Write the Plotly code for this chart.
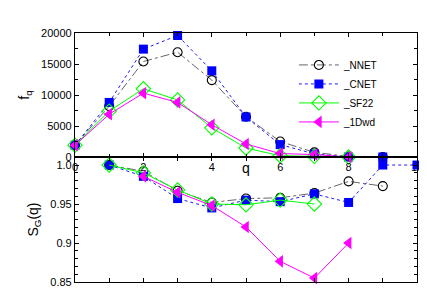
import plotly.graph_objects as go
from plotly.subplots import make_subplots

# top panel: f_q
q_top = [0, 1, 2, 3, 4, 5, 6, 7, 8, 9]
fq_nnet = [1900, 8200, 15400, 16900, 12400, 6500, 2500, 750, 80, 0]
fq_cnet = [1900, 8800, 17400, 19600, 13900, 6450, 2000, 500, 0, 0]
q_sf22 = [0, 1, 2, 3, 4, 5, 6, 7, 8]
fq_sf22 = [1900, 7400, 11000, 9200, 4700, 1450, 200, 100, 0]
fq_1dwd = [1900, 6900, 10300, 8800, 5200, 2100, 550, 400, 0]

# bottom panel: S_G(q)
q_nnet_b = [1, 2, 3, 4, 5, 6, 7, 8, 9]
sg_nnet = [1.0, 0.992, 0.967, 0.952, 0.957, 0.958, 0.964, 0.979, 0.973]
q_cnet_b = [1, 2, 3, 4, 5, 6, 7, 8, 9, 10]
sg_cnet = [1.0, 0.9855, 0.957, 0.945, 0.955, 0.953, 0.963, 0.952, 1.0, 1.0]
q_sf22_b = [1, 2, 3, 4, 5, 6, 7]
sg_sf22 = [1.0, 0.99, 0.968, 0.95, 0.949, 0.955, 0.950]
q_1dwd_b = [2, 3, 4, 5, 6, 7, 8]
sg_1dwd = [0.9855, 0.965, 0.948, 0.9205, 0.8765, 0.855, 0.90]

names = ["_NNET", "_CNET", "_SF22", "_1Dwd"]

fig = make_subplots(rows=2, cols=1, vertical_spacing=0)

styles = [
    dict(line=dict(color="#555555", width=0.9, dash="dashdot"),
         marker=dict(symbol="circle-open", size=9, color="black", line=dict(width=1.1, color="black"))),
    dict(line=dict(color="#0000ff", width=0.9, dash="dot"),
         marker=dict(symbol="square", size=9, color="#0000ff")),
    dict(line=dict(color="#00ff00", width=1),
         marker=dict(symbol="diamond-open", size=11, color="#00ff00", line=dict(width=1.1, color="#00ff00"))),
    dict(line=dict(color="#ff00ff", width=1),
         marker=dict(symbol="triangle-left", size=11, color="#ff00ff")),
]

top = [(q_top, fq_nnet), (q_top, fq_cnet), (q_sf22, fq_sf22), (q_sf22, fq_1dwd)]
bot = [(q_nnet_b, sg_nnet), (q_cnet_b, sg_cnet), (q_sf22_b, sg_sf22), (q_1dwd_b, sg_1dwd)]

for i in range(4):
    fig.add_trace(go.Scatter(x=top[i][0], y=top[i][1], mode="lines+markers", name=names[i],
                             legendgroup=names[i], cliponaxis=False, **styles[i]), row=1, col=1)
for i in range(4):
    fig.add_trace(go.Scatter(x=bot[i][0], y=bot[i][1], mode="lines+markers", name=names[i],
                             legendgroup=names[i], showlegend=False, cliponaxis=False, **styles[i]), row=2, col=1)

axfont = dict(family="Liberation Sans, Arial", size=11, color="black")
common = dict(showline=True, linecolor="black", linewidth=1.2, showgrid=False, zeroline=False,
              ticks="inside", ticklen=4, tickcolor="black", mirror="ticks", tickfont=axfont)

fig.update_xaxes(range=[0, 10], dtick=2, tick0=0, minor=dict(ticks="inside", dtick=1, ticklen=3, tickcolor="black"),
                 **common, row=1, col=1)
fig.update_xaxes(range=[0, 10], dtick=1, tick0=0, showticklabels=False, **common, row=2, col=1)
fig.update_yaxes(range=[0, 20000], dtick=5000, tickformat="d",
                 minor=dict(ticks="inside", dtick=2500, ticklen=3, tickcolor="black"),
                 title=dict(text="f<sub>q</sub>", font=dict(family="Liberation Sans, Arial", size=14), standoff=8),
                 **common, row=1, col=1)
fig.update_yaxes(range=[0.85, 1.0103], tickvals=[0.85, 0.9, 0.95, 1.0], ticktext=["0.85", "0.9", "0.95", "1.0"],
                 minor=dict(ticks="inside", dtick=0.01, ticklen=3, tickcolor="black"),
                 title=dict(text="S<sub>G</sub>(q)", font=dict(family="Liberation Sans, Arial", size=14), standoff=8),
                 **common, row=2, col=1)

fig.layout.yaxis.domain = [0.502, 1.0]
fig.layout.yaxis2.domain = [0.0, 0.502]

fig.add_annotation(text="q", x=5, y=1.0103, xref="x2", yref="y2", yanchor="top", yshift=-1,
                   showarrow=False, font=dict(family="Liberation Sans, Arial", size=14, color="black"))

fig.update_layout(
    width=427, height=299,
    margin=dict(l=67, r=16, t=25, b=25),
    paper_bgcolor="white", plot_bgcolor="white",
    font=axfont,
    legend=dict(x=0.64, y=0.93, xanchor="left", yanchor="top", bgcolor="rgba(0,0,0,0)",
                font=dict(family="Liberation Sans, Arial", size=10, color="black"),
                itemwidth=40, tracegroupgap=0),
)

fig.write_html("out.html")
